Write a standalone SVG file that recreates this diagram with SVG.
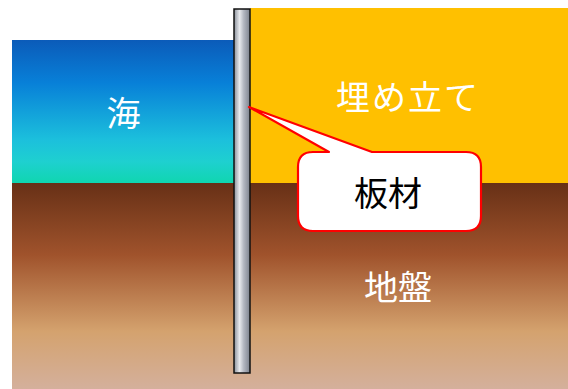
<svg xmlns="http://www.w3.org/2000/svg" width="568" height="389" viewBox="0 0 568 389">
  <defs>
    <linearGradient id="seaGrad" x1="0" y1="0" x2="0" y2="1">
      <stop offset="0" stop-color="#0b5bb9"/>
      <stop offset="0.3" stop-color="#0880d8"/>
      <stop offset="0.7" stop-color="#1cc0dc"/>
      <stop offset="0.85" stop-color="#1ed0d0"/>
      <stop offset="1" stop-color="#10d6b0"/>
    </linearGradient>
    <linearGradient id="groundGrad" x1="0" y1="0" x2="0" y2="1">
      <stop offset="0" stop-color="#673016"/>
      <stop offset="0.35" stop-color="#a0532c"/>
      <stop offset="0.72" stop-color="#d4a26e"/>
      <stop offset="1" stop-color="#d4b09c"/>
    </linearGradient>
    <linearGradient id="pileGrad" x1="0" y1="0" x2="1" y2="0">
      <stop offset="0" stop-color="#8a909a"/>
      <stop offset="0.35" stop-color="#e8eaee"/>
      <stop offset="0.6" stop-color="#b4b8c2"/>
      <stop offset="1" stop-color="#7c828e"/>
    </linearGradient>
    <style>
      .label { font-family: "Noto Sans CJK JP", "Noto Sans CJK SC", sans-serif; text-anchor: middle; dominant-baseline: central; font-size: 34px; }
      .white { fill: #ffffff; }
      .dark { fill: #000000; }
    </style>
  </defs>

  <g id="ground">
    <rect x="12" y="183" width="556" height="206" fill="url(#groundGrad)"/>
    <text class="label white" x="398" y="285">地盤</text>
  </g>

  <g id="sea">
    <rect x="12" y="40" width="222" height="143" fill="url(#seaGrad)"/>
    <text class="label white" x="123.5" y="111.5">海</text>
  </g>

  <g id="landfill">
    <rect x="250" y="8" width="318" height="175" fill="#ffc000"/>
    <text class="label white" x="408" y="95" letter-spacing="2">埋め立て</text>
  </g>

  <g id="pile">
    <rect x="234" y="9" width="16" height="364" fill="url(#pileGrad)" stroke="#111" stroke-width="1.5"/>
  </g>

  <g id="callout">
    <path d="M312 152 L329 152 L249 107 L372 152 L466 152 Q481 152 481 167 L481 216 Q481 231 466 231 L313 231 Q298 231 298 216 L298 167 Q298 152 313 152 Z" fill="#ffffff" stroke="#ff0000" stroke-width="2.2" stroke-linejoin="round"/>
    <text class="label dark" x="388" y="191.5">板材</text>
  </g>
</svg>
